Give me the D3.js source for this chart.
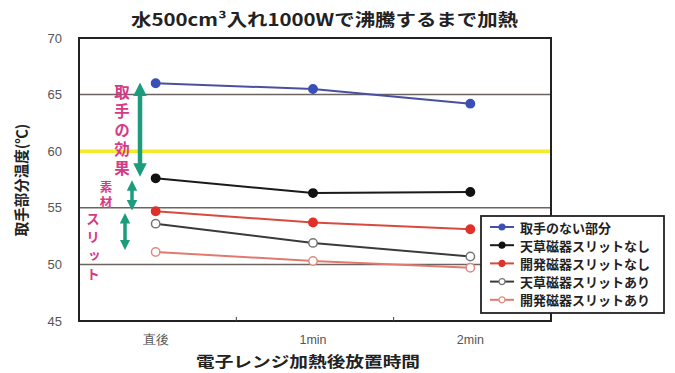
<!DOCTYPE html>
<html>
<head>
<meta charset="utf-8">
<script src="https://cdn.jsdelivr.net/npm/d3@7"></script>
<style>
  html, body { margin: 0; padding: 0; background: #fff; }
  svg { display: block; font-family: "Noto Sans CJK JP", "Noto Sans", sans-serif; }
</style>
</head>
<body>
<svg id="chart" width="675" height="373"></svg>
<script>
// Handle temperature after heating 500 cm3 of water to boiling at 1000 W
const categories = ["直後", "1min", "2min"];
const seriesNames = [
  "取手のない部分",
  "天草磁器スリットなし",
  "開発磁器スリットなし",
  "天草磁器スリットあり",
  "開発磁器スリットあり"
];
const noHandle      = [66.0, 65.5, 64.2];
const amakusaNoSlit = [57.6, 56.3, 56.4];
const devNoSlit     = [54.7, 53.7, 53.1];
const amakusaSlit   = [53.6, 51.9, 50.7];
const devSlit       = [51.1, 50.3, 49.7];
const yTicks = [45, 50, 55, 60, 65, 70];
const gridValues = [50, 55, 65];
const referenceLine = 60;

const styles = [
  { stroke: "#4b4fa0", fill: "#3a4fb8", mstroke: "#3a4fb8" },
  { stroke: "#1a1a1a", fill: "#111111", mstroke: "#111111" },
  { stroke: "#d84a3e", fill: "#e0302a", mstroke: "#e0302a" },
  { stroke: "#3a3a3a", fill: "#ffffff", mstroke: "#777777" },
  { stroke: "#e07a70", fill: "#ffffff", mstroke: "#e08a80" }
];
const values = [noHandle, amakusaNoSlit, devNoSlit, amakusaSlit, devSlit];
const series = seriesNames.map((name, i) => ({ name, values: values[i], style: styles[i] }));

const svg = d3.select("#chart");
const m = { left: 79, right: 124, top: 38, bottom: 52 };
const W = 675, H = 373;

const x = d3.scaleBand().domain(categories).range([m.left, W - m.right]);
const y = d3.scaleLinear().domain([45, 70]).range([H - m.bottom, m.top]);
const cx = c => x(c) + x.bandwidth() / 2 - 2;

// title
svg.append("text")
  .attr("x", 131).attr("y", 26)
  .attr("textLength", 387).attr("lengthAdjust", "spacingAndGlyphs")
  .attr("font-size", 16.5).attr("font-weight", "bold").attr("fill", "#222")
  .text("水500cm³入れ1000Wで沸騰するまで加熱");

// grid lines
svg.append("g").selectAll("line").data(gridValues).join("line")
  .attr("x1", m.left).attr("x2", W - m.right)
  .attr("y1", d => y(d)).attr("y2", d => y(d))
  .attr("stroke", "#6b6460").attr("stroke-width", 1.5);

svg.append("line")
  .attr("x1", m.left).attr("x2", W - m.right)
  .attr("y1", y(referenceLine)).attr("y2", y(referenceLine))
  .attr("stroke", "#f2ea2a").attr("stroke-width", 3.5);

// plot frame
svg.append("rect")
  .attr("x", m.left).attr("y", m.top)
  .attr("width", W - m.right - m.left).attr("height", H - m.bottom - m.top)
  .attr("fill", "none").attr("stroke", "#222").attr("stroke-width", 2);

// y axis
const yAxis = svg.append("g")
  .attr("transform", `translate(${m.left},0)`)
  .call(d3.axisLeft(y).tickValues(yTicks).tickSize(0).tickPadding(17));
yAxis.select(".domain").remove();
yAxis.selectAll("text")
  .attr("font-size", 13).attr("fill", "#555").attr("font-family", "Liberation Sans, Arial, sans-serif");

// x axis
const xAxis = svg.append("g")
  .attr("transform", `translate(0,${H - m.bottom})`)
  .call(d3.axisBottom(x).tickSize(0).tickPadding(14));
xAxis.select(".domain").remove();
xAxis.selectAll("text")
  .attr("font-size", 12.5).attr("fill", "#555").attr("dx", -2);

// category boundary ticks
svg.append("g").selectAll("line").data(categories.slice(1)).join("line")
  .attr("x1", d => x(d)).attr("x2", d => x(d))
  .attr("y1", H - m.bottom).attr("y2", H - m.bottom - 4)
  .attr("stroke", "#444").attr("stroke-width", 1);

// axis titles
svg.append("text")
  .attr("x", 196).attr("y", 367)
  .attr("textLength", 224).attr("lengthAdjust", "spacingAndGlyphs")
  .attr("font-size", 15).attr("font-weight", "bold").attr("fill", "#222")
  .text("電子レンジ加熱後放置時間");

svg.append("text")
  .attr("transform", "translate(27,180) rotate(-90)")
  .attr("text-anchor", "middle")
  .attr("font-size", 14.5).attr("font-weight", "bold").attr("fill", "#222")
  .text("取手部分温度(℃)");

// series
const line = d3.line().x((d, i) => cx(categories[i])).y(d => y(d));
const sg = svg.append("g").selectAll("g").data(series).join("g");
sg.append("path")
  .attr("d", d => line(d.values))
  .attr("fill", "none")
  .attr("stroke", d => d.style.stroke).attr("stroke-width", 2);
sg.selectAll("circle").data(d => d.values.map((v, i) => ({ v, i, s: d.style }))).join("circle")
  .attr("cx", d => cx(categories[d.i])).attr("cy", d => y(d.v))
  .attr("r", 4.2)
  .attr("fill", d => d.s.fill).attr("stroke", d => d.s.mstroke).attr("stroke-width", 1.5);

// annotation arrows
const arrowColor = "#1c9c7c";
const defs = svg.append("defs");
defs.append("marker").attr("id", "ah")
  .attr("viewBox", "0 0 10 10").attr("refX", 5).attr("refY", 5)
  .attr("markerWidth", 3).attr("markerHeight", 3).attr("orient", "auto-start-reverse")
  .append("path").attr("d", "M0,0 L10,5 L0,10 z").attr("fill", arrowColor);

const arrows = [
  { x: 140, v1: 66.0, v2: 57.8, w: 4.5 },
  { x: 132, v1: 57.5, v2: 54.7, w: 3.5 },
  { x: 125, v1: 54.6, v2: 51.2, w: 3.5 }
];
svg.append("g").selectAll("line").data(arrows).join("line")
  .attr("x1", d => d.x).attr("x2", d => d.x)
  .attr("y1", d => y(d.v1) + 6).attr("y2", d => y(d.v2) - 6)
  .attr("stroke", arrowColor).attr("stroke-width", d => d.w)
  .attr("marker-start", "url(#ah)").attr("marker-end", "url(#ah)");

// annotation labels, set vertically
const notes = [
  { text: "取手の効果", x: 122, top: 84, gap: 3.5, size: 15.5 },
  { text: "素材", x: 106, top: 181, gap: 2.5, size: 12.5 },
  { text: "スリット", x: 93, top: 212, gap: 5, size: 13.5 }
];
svg.append("g").selectAll("text").data(notes).join("text")
  .attr("x", d => d.x).attr("y", d => d.top)
  .style("writing-mode", "vertical-rl")
  .style("letter-spacing", d => d.gap + "px")
  .attr("font-size", d => d.size).attr("font-weight", "bold").attr("fill", "#d63a86")
  .text(d => d.text);

// legend
const lg = svg.append("g");
lg.append("rect")
  .attr("x", 481).attr("y", 216).attr("width", 183).attr("height", 97)
  .attr("fill", "#fff").attr("stroke", "#222").attr("stroke-width", 1.8);
const items = lg.selectAll("g.item").data(series).join("g")
  .attr("transform", (d, i) => `translate(0,${227 + i * 18.2})`);
items.append("line")
  .attr("x1", 490).attr("x2", 514).attr("y1", 0).attr("y2", 0)
  .attr("stroke", d => d.style.stroke).attr("stroke-width", 2);
items.append("circle")
  .attr("cx", 502).attr("cy", 0).attr("r", 3)
  .attr("fill", d => d.style.fill).attr("stroke", d => d.style.mstroke).attr("stroke-width", 1.2);
items.append("text")
  .attr("x", 520).attr("y", 0).attr("dominant-baseline", "central")
  .attr("font-size", 13).attr("font-weight", "bold").attr("fill", "#222")
  .text(d => d.name);
</script>
</body>
</html>
